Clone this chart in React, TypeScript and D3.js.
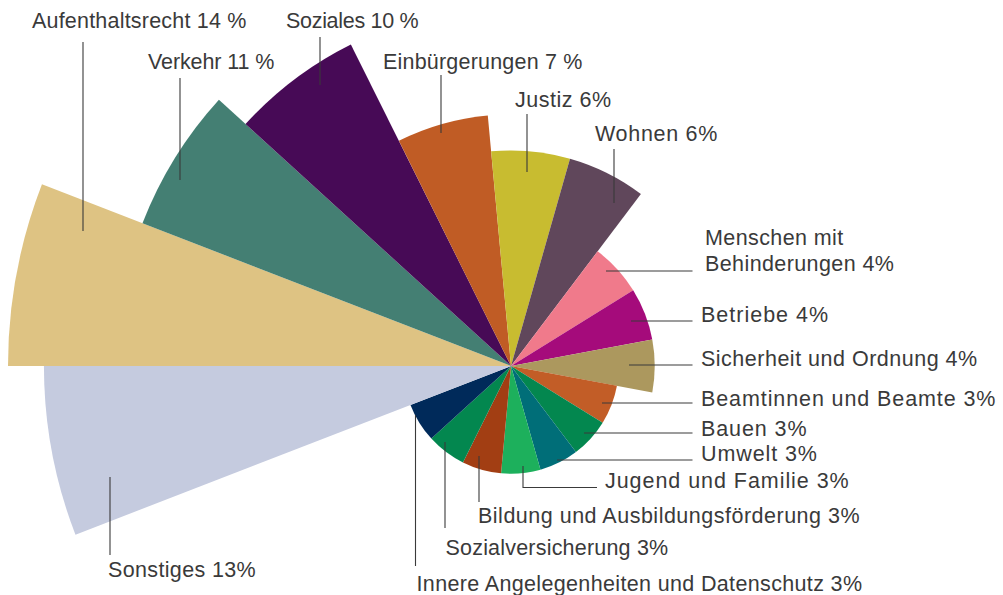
import React from "react";
import * as d3 from "d3";

const categories = [
  "Aufenthaltsrecht", "Verkehr", "Soziales", "Einbürgerungen", "Justiz", "Wohnen",
  "Menschen mit Behinderungen", "Betriebe", "Sicherheit und Ordnung", "Beamtinnen und Beamte",
  "Bauen", "Umwelt", "Jugend und Familie", "Bildung und Ausbildungsförderung",
  "Sozialversicherung", "Innere Angelegenheiten und Datenschutz", "Sonstiges",
];
const values = [14, 11, 10, 7, 6, 6, 4, 4, 4, 3, 3, 3, 3, 3, 3, 3, 13];
const labelTexts = [
  ["Aufenthaltsrecht 14 %"], ["Verkehr 11 %"], ["Soziales 10 %"], ["Einbürgerungen 7 %"],
  ["Justiz 6%"], ["Wohnen 6%"], ["Menschen mit", "Behinderungen 4%"], ["Betriebe 4%"],
  ["Sicherheit und Ordnung 4%"], ["Beamtinnen und Beamte 3%"], ["Bauen 3%"], ["Umwelt 3%"],
  ["Jugend und Familie 3%"], ["Bildung und Ausbildungsförderung 3%"], ["Sozialversicherung 3%"],
  ["Innere Angelegenheiten und Datenschutz 3%"], ["Sonstiges 13%"],
];
const colors = [
  "#dec383", "#447f73", "#470a56", "#c05c25", "#c8bc30", "#60475b", "#f07a8b", "#a50b7b",
  "#ac985e", "#c25d27", "#03874f", "#006e78", "#1db05c", "#a23e13", "#03874f", "#002a5a", "#c5cbdf",
];

// layout: label text position, tracking and leader polyline
const labelLayout: { tx: number; ty: number; ls: number; line: [number, number][] }[] = [
  { tx: 32, ty: 28, ls: 0.2, line: [[83, 42], [83, 231]] },
  { tx: 148, ty: 69, ls: -0.1, line: [[180, 78], [180, 180]] },
  { tx: 286, ty: 28, ls: -0.3, line: [[320, 37], [320, 85]] },
  { tx: 383, ty: 69, ls: 0.2, line: [[441, 75], [441, 133]] },
  { tx: 515, ty: 107, ls: 0.5, line: [[527, 114], [527, 172]] },
  { tx: 595, ty: 141, ls: 0.7, line: [[614, 149], [614, 203]] },
  { tx: 705, ty: 245, ls: 0.4, line: [[606, 271], [692.5, 271]] },
  { tx: 701, ty: 322, ls: 1.0, line: [[631, 321], [692.5, 321]] },
  { tx: 701, ty: 366, ls: 0.5, line: [[629, 365], [692.5, 365]] },
  { tx: 701, ty: 406, ls: 0.9, line: [[602, 403], [692.5, 403]] },
  { tx: 701, ty: 436, ls: 0.9, line: [[584, 433], [692.5, 433]] },
  { tx: 701, ty: 461, ls: 0.9, line: [[557, 460], [692.5, 460]] },
  { tx: 605, ty: 488, ls: 0.95, line: [[523, 466], [523, 487.5], [597, 487.5]] },
  { tx: 478, ty: 523, ls: 0.5, line: [[479, 456], [479, 502]] },
  { tx: 445.5, ty: 555, ls: 0.2, line: [[445, 442], [445, 528]] },
  { tx: 416.5, ty: 591, ls: 0.35, line: [[415.5, 415], [415.5, 566]] },
  { tx: 108, ty: 577, ls: 0.35, line: [[110, 477], [110, 555]] },
];

const W = 1003, H = 595;
const cx = 511, cy = 366;

export default function App() {
  const n = values.length;
  const angle = d3.scaleLinear().domain([0, n]).range([-Math.PI / 2, (3 * Math.PI) / 2]);
  const radius = d3.scaleLinear().domain([0, 14]).range([0, 503]);
  const arc = d3.arc<any>().innerRadius(0);
  const line = d3.line();

  return (
    <svg width={W} height={H} style={{ position: "absolute", left: 0, top: 0 }}
      fontFamily="'Liberation Sans', Arial, sans-serif">
      <rect width={W} height={H} fill="#ffffff" />
      <g transform={`translate(${cx},${cy})`}>
        {values.map((v, i) => (
          <path key={categories[i]} fill={colors[i]}
            d={arc({ startAngle: angle(i), endAngle: angle(i + 1), outerRadius: radius(v) }) as string} />
        ))}
      </g>
      {labelLayout.map((l, i) => (
        <g key={"l" + i}>
          <path d={line(l.line) as string} fill="none" stroke="#3a3a3a" strokeWidth={1.1} />
          <text x={l.tx} y={l.ty} fontSize={21.5} fill="#3a3a3a" letterSpacing={l.ls}>
            {labelTexts[i].map((t, j) => (
              <tspan key={j} x={l.tx} dy={j === 0 ? 0 : 26}>{t}</tspan>
            ))}
          </text>
        </g>
      ))}
    </svg>
  );
}
